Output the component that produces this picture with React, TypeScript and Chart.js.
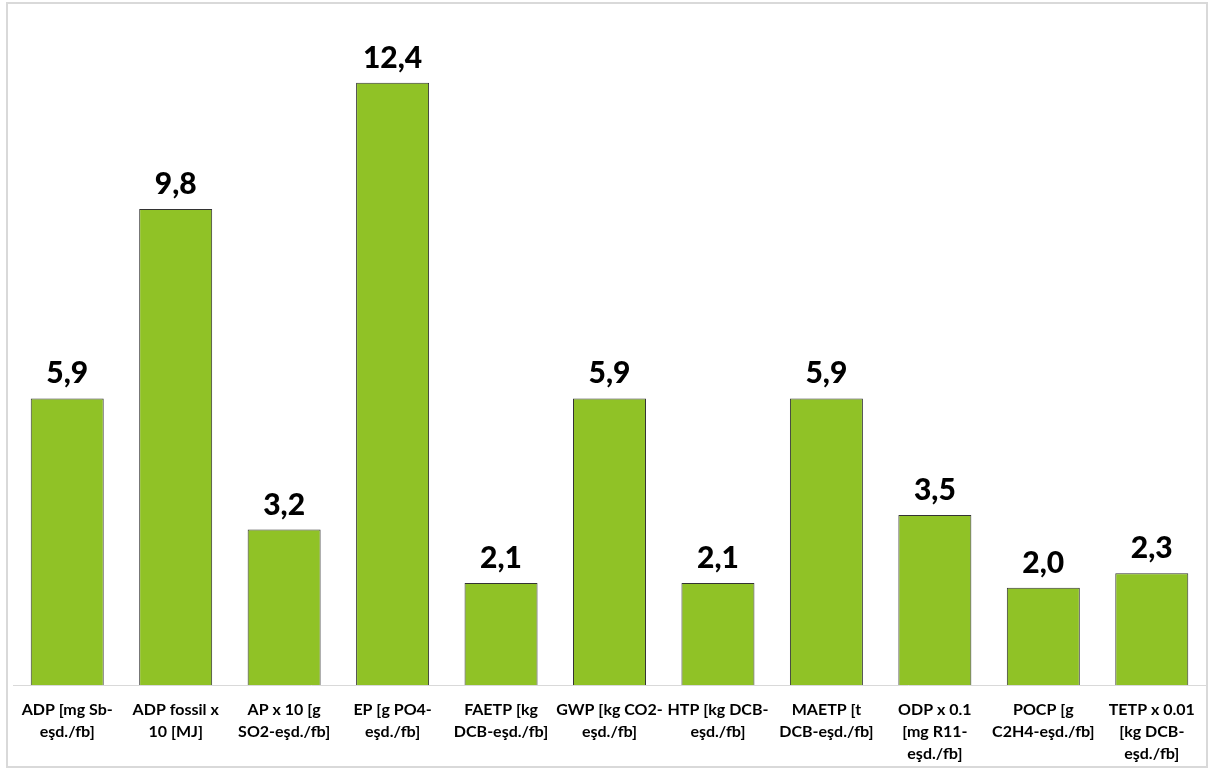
import React, { useEffect, useRef } from "react";
import { Chart, registerables } from "chart.js";

Chart.register(...registerables);

const categories: string[][] = [
  ["ADP [mg Sb-", "eşd./fb]"],
  ["ADP fossil x", "10 [MJ]"],
  ["AP x 10 [g", "SO2-eşd./fb]"],
  ["EP [g PO4-", "eşd./fb]"],
  ["FAETP [kg", "DCB-eşd./fb]"],
  ["GWP [kg CO2-", "eşd./fb]"],
  ["HTP [kg DCB-", "eşd./fb]"],
  ["MAETP [t", "DCB-eşd./fb]"],
  ["ODP x 0.1", "[mg R11-", "eşd./fb]"],
  ["POCP [g", "C2H4-eşd./fb]"],
  ["TETP x 0.01", "[kg DCB-", "eşd./fb]"],
];

const values: number[] = [5.9, 9.8, 3.2, 12.4, 2.1, 5.9, 2.1, 5.9, 3.5, 2.0, 2.3];

const yMin = 0;
const yMax = 14;

const FONT = "Lato, 'Open Sans', 'DejaVu Sans', sans-serif";

// Light frame around the whole chart plus white page background
const framePlugin = {
  id: "frame",
  beforeDraw(chart: any) {
    const ctx = chart.ctx;
    ctx.save();
    ctx.fillStyle = "#ffffff";
    ctx.fillRect(0, 0, chart.width, chart.height);
    ctx.strokeStyle = "#D9D9D9";
    ctx.lineWidth = 2;
    ctx.strokeRect(7, 3, 1200, 764);
    ctx.restore();
  },
};

// Value labels above each bar, decimal comma
const valueLabelPlugin = {
  id: "valueLabels",
  afterDatasetsDraw(chart: any) {
    const ctx = chart.ctx;
    const meta = chart.getDatasetMeta(0);
    ctx.save();
    ctx.font = `900 30px ${FONT}`;
    ctx.fillStyle = "#000000";
    ctx.textAlign = "center";
    ctx.textBaseline = "alphabetic";
    meta.data.forEach((bar: any, i: number) => {
      const text = values[i].toFixed(1).replace(".", ",");
      ctx.fillText(text, bar.x, bar.y - 15);
    });
    ctx.restore();
  },
};

export default function App() {
  const canvasRef = useRef<HTMLCanvasElement | null>(null);

  useEffect(() => {
    if (!canvasRef.current) return;
    const chart = new Chart(canvasRef.current, {
      type: "bar",
      data: {
        labels: categories,
        datasets: [
          {
            data: values,
            backgroundColor: "#90C226",
            borderColor: "#333333",
            borderWidth: 1,
            barPercentage: 0.673,
            categoryPercentage: 1,
          },
        ],
      },
      options: {
        animation: false,
        responsive: false,
        maintainAspectRatio: false,
        layout: { padding: { left: 13, right: 2, top: 5, bottom: 0 } },
        plugins: {
          legend: { display: false },
          tooltip: { enabled: false },
        },
        scales: {
          x: {
            grid: { display: false },
            border: { display: true, color: "#D9D9D9", width: 1 },
            ticks: {
              color: "#000000",
              font: { family: FONT, size: 16, weight: "bold", lineHeight: 1.375 },
              maxRotation: 0,
              minRotation: 0,
              autoSkip: false,
              padding: 6,
            },
            afterFit: (scale: any) => {
              scale.height = 84;
            },
          },
          y: {
            display: false,
            min: yMin,
            max: yMax,
          },
        },
      },
      plugins: [framePlugin, valueLabelPlugin],
    });
    return () => chart.destroy();
  }, []);

  return (
    <div style={{ position: "fixed", left: 0, top: 0, width: 1208, height: 769 }}>
      <canvas ref={canvasRef} width={1208} height={769} style={{ display: "block" }} />
    </div>
  );
}
